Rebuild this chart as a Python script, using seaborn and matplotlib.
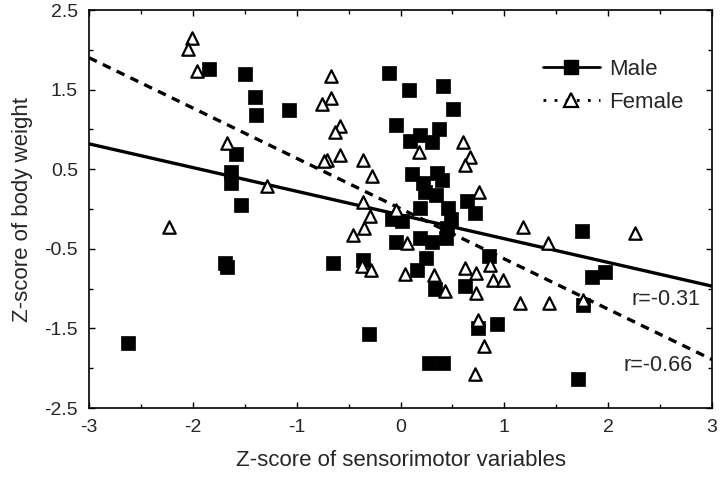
import numpy as np
import pandas as pd
import seaborn as sns
import matplotlib.pyplot as plt
from matplotlib.lines import Line2D

# Points (z-scores)
male_x = [-2.62, -1.84, -1.50, -1.40, -1.39, -1.07, -1.58, -1.63, -1.63, -1.54,
          -1.69, -1.67, -0.65, -0.36, -0.30, -0.11, 0.08, 0.41, 0.51, -0.04,
          0.37, 0.19, 0.09, 0.30, 0.11, 0.35, 0.22, 0.40, 0.24, 0.34,
          0.64, 0.72, 0.19, 0.46, -0.08, 0.01, 0.49, 0.45, -0.04, 0.19,
          0.30, 0.44, 0.25, 0.16, 0.85, 0.62, 0.33, 0.75, 0.93, 0.27,
          0.41, 1.75, 1.84, 1.97, 1.76, 1.71]
male_y = [-1.68, 1.76, 1.70, 1.41, 1.18, 1.25, 0.69, 0.47, 0.33, 0.05,
          -0.68, -0.73, -0.68, -0.64, -1.57, 1.71, 1.50, 1.55, 1.26, 1.05,
          1.00, 0.93, 0.85, 0.84, 0.44, 0.45, 0.33, 0.36, 0.22, 0.18,
          0.10, -0.05, 0.01, 0.01, -0.12, -0.15, -0.12, -0.24, -0.41, -0.36,
          -0.41, -0.36, -0.62, -0.77, -0.59, -0.97, -1.01, -1.50, -1.44, -1.93,
          -1.93, -0.27, -0.86, -0.79, -1.21, -2.14]

female_x = [-2.01, -2.05, -1.96, -1.67, -1.29, -2.23, -0.67, -0.67, -0.76, -0.58,
            -0.63, -0.58, -0.71, -0.74, -0.36, -0.27, -0.36, -0.29, -0.35, -0.46,
            -0.04, 0.06, -0.37, -0.28, 0.04, 0.60, 0.18, 0.67, 0.62, 0.76,
            1.18, 2.26, 1.42, 0.32, 0.62, 0.73, 0.86, 0.89, 0.99, 0.43,
            0.73, 0.75, 0.80, 0.72, 1.15, 1.43, 1.76]
female_y = [2.15, 2.01, 1.73, 0.83, 0.29, -0.23, 1.67, 1.39, 1.32, 1.04,
            0.97, 0.68, 0.61, 0.60, 0.61, 0.42, 0.09, -0.09, -0.24, -0.33,
            -0.01, -0.43, -0.72, -0.76, -0.82, 0.84, 0.72, 0.65, 0.55, 0.22,
            -0.22, -0.30, -0.43, -0.83, -0.74, -0.80, -0.70, -0.89, -0.89, -1.03,
            -1.06, -1.39, -1.72, -2.07, -1.18, -1.18, -1.14]

# fitted lines as drawn in the figure: (intercept, slope)
male_fit = (-0.075, -0.298)
female_fit = (0.005, -0.632)

x_ticks = [-3, -2, -1, 0, 1, 2, 3]
y_ticks = [-2.5, -1.5, -0.5, 0.5, 1.5, 2.5]
r_text = ["r=-0.31", "r=-0.66"]

sns.set_style("ticks")
plt.rcParams['font.family'] = ['Liberation Sans', 'DejaVu Sans']

fig = plt.figure(figsize=(7.2, 4.78), dpi=100)
ax = fig.add_axes([0.1236, 0.1464, 0.8654, 0.8326])

xlim = (x_ticks[0], x_ticks[-1])
line_x = np.array(xlim, dtype=float)
lines = pd.DataFrame({
    'x': np.concatenate([line_x, line_x]),
    'y': np.concatenate([male_fit[0] + male_fit[1] * line_x,
                         female_fit[0] + female_fit[1] * line_x]),
    'sex': ['Male'] * 2 + ['Female'] * 2,
})
sns.lineplot(data=lines[lines.sex == 'Male'], x='x', y='y', color='black',
             linewidth=2.4, ax=ax, zorder=2)
sns.lineplot(data=lines[lines.sex == 'Female'], x='x', y='y', color='black',
             linewidth=2.4, ax=ax, zorder=2, dashes=False, linestyle=(0, (2.6, 2.0)))

males = pd.DataFrame({'x': male_x, 'y': male_y})
females = pd.DataFrame({'x': female_x, 'y': female_y})
sns.scatterplot(data=males, x='x', y='y', marker='s', s=105, color='black',
                edgecolor='black', linewidth=0.5, ax=ax, zorder=3)
sns.scatterplot(data=females, x='x', y='y', marker='^', s=80, facecolor='white',
                edgecolor='black', linewidth=1.6, ax=ax, zorder=4)

ax.set_xlim(*xlim)
ax.set_ylim(y_ticks[0], y_ticks[-1])
ax.set_xticks(x_ticks)
ax.set_xticklabels([str(t) for t in x_ticks])
ax.set_yticks(y_ticks)
ax.set_yticklabels([f"{t:.1f}" for t in y_ticks])
ax.set_xticks(np.arange(-2.5, 3, 1), minor=True)
ax.set_yticks(np.arange(-2, 2.5, 1), minor=True)
ax.tick_params(which='both', direction='in', top=True, right=True, color='black')
ax.tick_params(which='major', length=4, width=1, labelsize=14, pad=8)
ax.tick_params(which='minor', length=3, width=1)
for sp in ax.spines.values():
    sp.set_color('black')
    sp.set_linewidth(1.2)

ax.set_xlabel("Z-score of sensorimotor variables", fontsize=16, labelpad=10)
ax.set_ylabel("Z-score of body weight", fontsize=16, labelpad=8)

ax.text(2.89, -1.14, r_text[0], ha='right', va='center', fontsize=15.5)
ax.text(2.81, -1.96, r_text[1], ha='right', va='center', fontsize=15.5)

handles = [
    Line2D([], [], color='black', linewidth=2, marker='s', markersize=10,
           markerfacecolor='black'),
    Line2D([], [], color='black', linewidth=2, linestyle=(0, (1, 3)), marker='^',
           markersize=10, markerfacecolor='white', markeredgewidth=1.6),
]
ax.legend(handles, ['Male', 'Female'], loc='upper left', bbox_to_anchor=(0.728, 0.877),
          frameon=False, fontsize=16, handlelength=2.6, handletextpad=0.4,
          labelspacing=0.55, borderpad=0, borderaxespad=0)

fig.savefig("out.png", dpi=100)
